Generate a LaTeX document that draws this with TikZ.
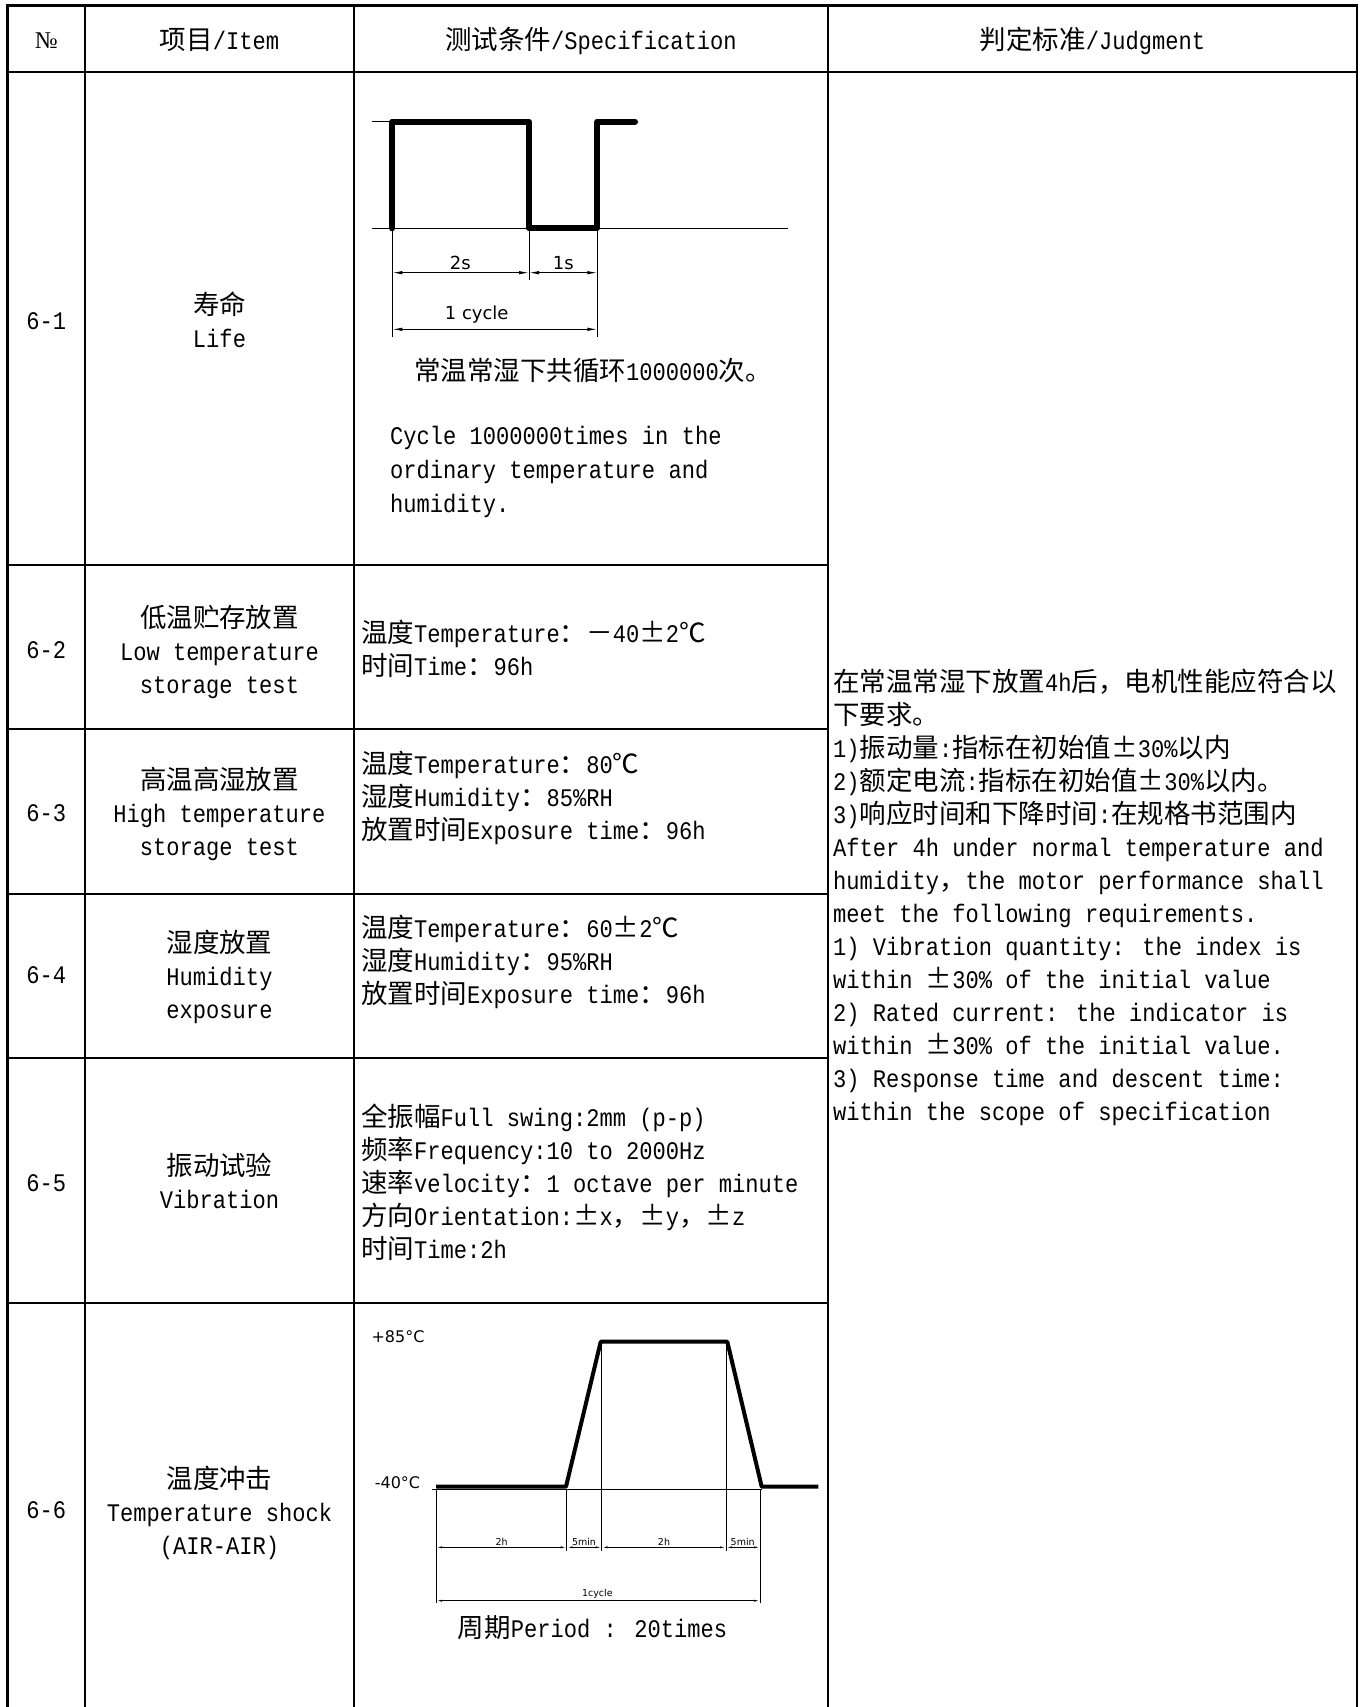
\documentclass[tikz,border=0pt]{standalone}
\usepackage{fontspec}
\usetikzlibrary{arrows.meta}
\setmainfont[FakeStretch=0.873]{Liberation Mono}
\newfontfamily\latinfont[FakeStretch=0.873]{Liberation Mono}
\newfontfamily\cjkfont[Scale=1.047]{Noto Sans CJK SC}
\newfontfamily\cadfont{DejaVu Sans}
\newfontfamily\numfont{Liberation Serif}

% Chinese characters pick the CJK font by themselves
\XeTeXinterchartokenstate=1
\newXeTeXintercharclass\cjkclass
\def\setcharclass#1#2#3{\count255=#1\relax\loop\XeTeXcharclass\count255=#3\relax\advance\count255 by 1\relax\ifnum\count255<#2\relax\repeat}
\setcharclass{"0021}{"0080}{0}
\setcharclass{"4E00}{"A000}{\cjkclass}
\setcharclass{"3000}{"3040}{\cjkclass}
\setcharclass{"FF00}{"FFF0}{\cjkclass}
\XeTeXcharclass"00B1=\cjkclass
\XeTeXcharclass"2103=\cjkclass
\XeTeXinterchartoks 0 \cjkclass = {\cjkfont}
\XeTeXinterchartoks 4095 \cjkclass = {\cjkfont}
\XeTeXinterchartoks \cjkclass 0 = {\latinfont}
\XeTeXinterchartoks \cjkclass 4095 = {\latinfont}

\tikzset{
	tableline/.style={line width=2.5pt, line cap=rect},
	helpline/.style={line width=1pt},
	wavebig/.style={line width=6pt, line cap=round, line join=round},
	wavesmall/.style={line width=4pt, line join=round},
	dimbig/.style={line width=1pt, {Latex[length=10pt,width=3.5pt]}-{Latex[length=10pt,width=3.5pt]}},
	dimsmall/.style={line width=0.8pt, {Latex[length=6pt,width=2pt]}-{Latex[length=6pt,width=2pt]}},
	txt/.style={inner sep=0pt, font=\fontsize{25.3}{33}\selectfont},
	lefttxt/.style={txt, anchor=base west, align=left},
	midtxt/.style={txt, anchor=base, align=center},
	cadlabel/.style={inner sep=0pt, font=\cadfont\fontsize{18}{20}\selectfont},
	cadmid/.style={inner sep=0pt, font=\cadfont\fontsize{16}{18}\selectfont},
	cadsmall/.style={inner sep=0pt, font=\cadfont\fontsize{9.5}{11}\selectfont}
}

\begin{document}
\begin{tikzpicture}[x=1pt, y=-1pt]
		%%%%% START %%%%%
		\useasboundingbox (0, 0) rectangle (1361, 1707);
		\fill[white] (0, 0) rectangle (1361, 1707);
		
		\draw[tableline] (7.6, 5.4) -- (1357, 5.4);
		\draw[tableline] (7.6, 72) -- (1357, 72);
		\draw[tableline] (7.6, 565) -- (828, 565) (7.6, 729) -- (828, 729) (7.6, 894) -- (828, 894);
		\draw[tableline] (7.6, 1058) -- (828, 1058) (7.6, 1303) -- (828, 1303);
		\draw[tableline] (7.6, 5.4) -- (7.6, 1707) (85, 5.4) -- (85, 1707) (354, 5.4) -- (354, 1707);
		\draw[tableline] (828, 5.4) -- (828, 1707) (1357, 5.4) -- (1357, 1707);
		
		% multi-line nodes sit on the baseline of their last line
		\node[midtxt, font=\numfont\fontsize{24}{26}\selectfont] (hdno) at (46.3, 49) {№};
		\node[midtxt] (hditem) at (219.5, 50) {项目/Item};
		\node[midtxt] (hdspec) at (591, 50) {测试条件/Specification};
		\node[midtxt] (hdjudge) at (1092.5, 50) {判定标准/Judgment};
		
		\node[midtxt] (no1) at (46.3, 329) {6-1};
		\node[midtxt] (no2) at (46.3, 658) {6-2};
		\node[midtxt] (no3) at (46.3, 821) {6-3};
		\node[midtxt] (no4) at (46.3, 983) {6-4};
		\node[midtxt] (no5) at (46.3, 1191) {6-5};
		\node[midtxt] (no6) at (46.3, 1518) {6-6};
		
		\node[midtxt] (item1) at (219.5, 347.5) {寿命\\Life};
		\node[midtxt] (item2) at (219.5, 693) {低温贮存放置\\Low temperature\\storage test};
		\node[midtxt] (item3) at (219.5, 855.5) {高温高湿放置\\High temperature\\storage test};
		\node[midtxt] (item4) at (219.5, 1018.5) {湿度放置\\Humidity\\exposure};
		\node[midtxt] (item5) at (219.5, 1208.5) {振动试验\\Vibration};
		\node[midtxt] (item6) at (219.5, 1554) {温度冲击\\Temperature shock\\(AIR-AIR)};
		
		% life cycle
		\draw[helpline] (371.7, 228.3) -- (788, 228.3);
		\draw[helpline] (371.7, 121.7) -- (392.3, 121.7);
		\draw[helpline] (392.3, 228.3) -- (392.3, 336.7);
		\draw[helpline] (529, 228.3) -- (529, 280);
		\draw[helpline] (597.3, 228.3) -- (597.3, 336.7);
		\draw[wavebig] (392.3, 228.3) -- (392.3, 121.7) -- (529, 121.7) -- (529, 228.3) -- (597.3, 228.3) -- (597.3, 121.7) -- (635, 121.7);
		\draw[dimbig] (392.3, 272.7) -- (529, 272.7);
		\draw[dimbig] (529, 272.7) -- (597.3, 272.7);
		\draw[dimbig] (392.3, 329.3) -- (597.3, 329.3);
		\node[cadlabel] (lbltwo) at (460.3, 263.3) {2s};
		\node[cadlabel] (lblone) at (563.3, 263.3) {1s};
		\node[cadlabel] (lblcycle) at (476.7, 315) {1 cycle};
		
		\node[lefttxt] (spec1cn) at (414, 380) {常温常湿下共循环1000000次。};
		\node[lefttxt, font=\fontsize{25.3}{34.4}\selectfont] (spec1en) at (390, 512.8) {Cycle 1000000times in the\\ordinary temperature and\\humidity.};
		
		\node[lefttxt] (spec2) at (361, 675.8) {温度Temperature：－40±2℃\\时间Time：96h};
		\node[lefttxt] (spec3) at (361, 839.5) {温度Temperature：80℃\\湿度Humidity：85\%RH\\放置时间Exposure time：96h};
		\node[lefttxt] (spec4) at (361, 1003.8) {温度Temperature：60±2℃\\湿度Humidity：95\%RH\\放置时间Exposure time：96h};
		\node[lefttxt] (spec5) at (361, 1258) {全振幅Full swing:2mm (p-p)\\频率Frequency:10 to 2000Hz\\速率velocity：1 octave per minute\\方向Orientation:±x，±y，±z\\时间Time:2h};
		
		% temperature shock
		\draw[helpline] (431.7, 1489.3) -- (761.7, 1489.3);
		\draw[helpline] (436, 1489.3) -- (436, 1603);
		\draw[helpline] (566.7, 1489.3) -- (566.7, 1551);
		\draw[helpline] (601.7, 1341.7) -- (601.7, 1551);
		\draw[helpline] (726, 1341.7) -- (726, 1551);
		\draw[helpline] (760, 1489.3) -- (760, 1603);
		\draw[wavesmall] (436, 1486.7) -- (566, 1486.7) -- (600.7, 1341.7) -- (727.3, 1341.7) -- (761.7, 1486.7) -- (818.3, 1486.7);
		\draw[dimsmall] (436, 1547.3) -- (566.7, 1547.3);
		\draw[dimsmall] (566.7, 1547.3) -- (601.7, 1547.3);
		\draw[dimsmall] (601.7, 1547.3) -- (726, 1547.3);
		\draw[dimsmall] (726, 1547.3) -- (760, 1547.3);
		\draw[dimsmall] (436, 1600.7) -- (760, 1600.7);
		\node[cadmid] (lblhigh) at (398, 1336.7) {+85°C};
		\node[cadmid] (lbllow) at (397.5, 1482.7) {-40°C};
		\node[cadsmall] (lblcold) at (501.7, 1542.2) {2h};
		\node[cadsmall] (lblup) at (584, 1542.2) {5min};
		\node[cadsmall] (lblhot) at (664, 1542.2) {2h};
		\node[cadsmall] (lbldown) at (742.7, 1542.2) {5min};
		\node[cadsmall] (lblround) at (597.3, 1594) {1cycle};
		
		\node[midtxt] (period) at (592.5, 1637.3) {周期Period : 20times};
		
		\node[lefttxt] (judge) at (833, 1120) {在常温常湿下放置4h后，电机性能应符合以\\下要求。\\1)振动量:指标在初始值±30\%以内\\2)额定电流:指标在初始值±30\%以内。\\3)响应时间和下降时间:在规格书范围内\\After 4h under normal temperature and\\humidity，the motor performance shall\\meet the following requirements.\\1) Vibration quantity: the index is\\within ±30\% of the initial value\\2) Rated current: the indicator is\\within ±30\% of the initial value.\\3) Response time and descent time:\\within the scope of specification};
		
		%%%%% END %%%%%
\end{tikzpicture}
\end{document}
